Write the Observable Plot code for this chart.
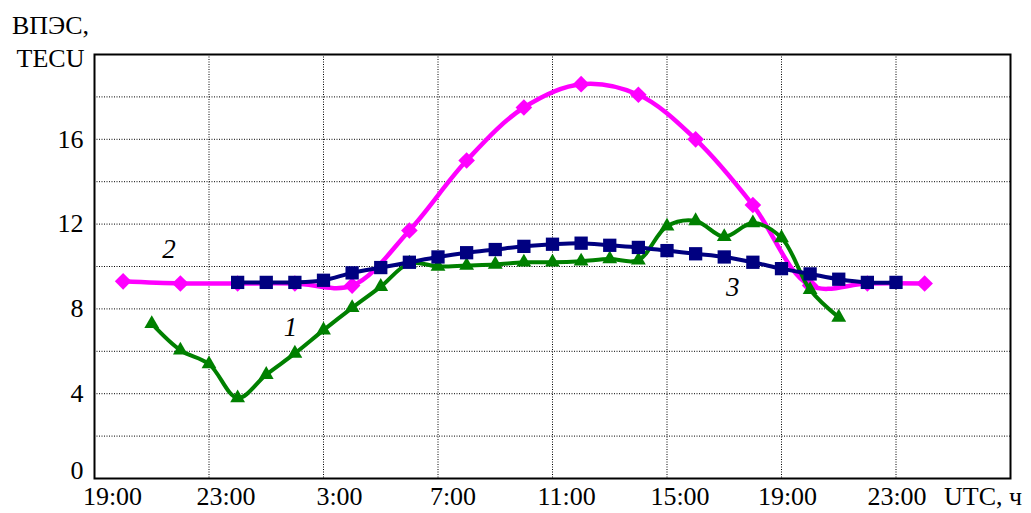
<!DOCTYPE html>
<html><head><meta charset="utf-8">
<script src="https://cdn.jsdelivr.net/npm/d3@7"></script>
<script src="https://cdn.jsdelivr.net/npm/@observablehq/plot@0.6"></script>
<style>
body{margin:0;background:#fff;}
#wrap{position:relative;width:1031px;height:513px;font-family:"Liberation Serif",serif;}
#wrap svg, #wrap svg text{font-family:"Liberation Serif",serif !important;}
.lab{position:absolute;font-size:26px;color:#000;line-height:30px;white-space:nowrap;font-family:"Liberation Serif",serif;}
</style></head><body><div id="wrap"></div>
<script>
// Series 1 (green, triangles)
const hours1 = [2,3,4,5,6,7,8,9,10,11,12,13,14,15,16,17,18,19,20,21,22,23,24,25,26];
const tec1   = [7.3,6.05,5.4,3.8,4.9,5.9,7.0,8.05,9.05,10.15,10.0,10.05,10.1,10.2,10.2,10.25,10.35,10.3,11.9,12.15,11.4,12.05,11.35,8.9,7.6];
// Series 2 (magenta, diamonds)
const hours2 = [1,3,5,7,9,11,13,15,17,19,21,23,25,27,29];
const tec2   = [9.3,9.2,9.2,9.2,9.1,11.7,15.0,17.5,18.6,18.1,16.0,12.9,9.1,9.2,9.2];
// Series 3 (navy, squares)
const hours3 = [5,6,7,8,9,10,11,12,13,14,15,16,17,18,19,20,21,22,23,24,25,26,27,28];
const tec3   = [9.25,9.25,9.25,9.35,9.7,9.95,10.2,10.45,10.65,10.8,10.95,11.05,11.1,11.0,10.9,10.75,10.6,10.45,10.2,9.9,9.65,9.4,9.25,9.25];

const xTicks = [0,4,8,12,16,20,24,28];
const xTickLabels = ["19:00","23:00","3:00","7:00","11:00","15:00","19:00","23:00"];
const yTicks = [4,8,12,16];
const yGrid = [2,4,6,8,10,12,14,16,18];

const curveLabels = ["1","2","3"];
const curveLabelX = [6.85,2.6,22.3];
const curveLabelY = [7.15,10.8,9.0];

// layout: horizontal shift of each x tick label (px)
const xTickShift = [18,17,16,15,14,13,6,1];

const d1 = hours1.map((h,i)=>({h, v:tec1[i]}));
const d2 = hours2.map((h,i)=>({h, v:tec2[i]}));
const d3s = hours3.map((h,i)=>({h, v:tec3[i]}));
const labs = curveLabels.map((t,i)=>({t, x:curveLabelX[i], y:curveLabelY[i]}));

const gridStyle = {stroke:"#000", strokeOpacity:1, strokeWidth:1, strokeDasharray:"1,1.5"};
const FONT = "Liberation Serif";
const FS = 26;

const chart = Plot.plot({
  width:1031, height:513,
  marginLeft:94, marginTop:54, marginRight:21, marginBottom:35,
  style:{fontFamily:FONT, fontSize:FS+"px", background:"white", color:"black"},
  x:{domain:[0,32]},
  y:{domain:[0,20]},
  marks:[
    Plot.gridX(xTicks.slice(1), gridStyle),
    Plot.gridY(yGrid, gridStyle),
    ...xTicks.map((t,i)=>Plot.axisX([t], {tickSize:0, tickPadding:8, dx:xTickShift[i], label:null, fontSize:FS, fontFamily:FONT,
      tickFormat:()=>xTickLabels[i]})),
    Plot.axisY(yTicks, {tickSize:0, tickPadding:11, label:null, fontSize:FS, fontFamily:FONT}),
    Plot.axisY([0], {tickSize:0, tickPadding:11, label:null, fontSize:FS, fontFamily:FONT, dy:-8}),
    Plot.line(d2, {x:"h", y:"v", stroke:"#FF00FF", strokeWidth:4.5, curve:"catmull-rom"}),
    Plot.dot(d2, {x:"h", y:"v", symbol:"diamond2", r:7.5, fill:"#FF00FF", stroke:"none"}),
    Plot.line(d1, {x:"h", y:"v", stroke:"#008000", strokeWidth:4, curve:"catmull-rom"}),
    Plot.dot(d1, {x:"h", y:"v", symbol:"triangle", r:5.5, fill:"#008000", stroke:"none"}),
    Plot.line(d3s, {x:"h", y:"v", stroke:"#000080", strokeWidth:4, curve:"catmull-rom"}),
    Plot.dot(d3s, {x:"h", y:"v", symbol:"square", r:7.5, fill:"#000080", stroke:"none"}),
    Plot.text(labs, {x:"x", y:"y", text:"t", fontStyle:"italic", fontSize:27, fontFamily:FONT, fill:"black"}),
    Plot.frame({stroke:"#000", strokeWidth:2})
  ]
});
const wrap = document.getElementById("wrap");
wrap.appendChild(chart);
const t1 = document.createElement("div");
t1.className = "lab";
t1.style.cssText = "left:0;top:9px;width:101px;text-align:center;line-height:33px;";
t1.innerHTML = "ВПЭС,<br>TECU";
wrap.appendChild(t1);
const t2 = document.createElement("div");
t2.className = "lab";
t2.style.cssText = "left:944px;top:482px;";
t2.textContent = "UTC, ч";
wrap.appendChild(t2);
</script></body></html>
